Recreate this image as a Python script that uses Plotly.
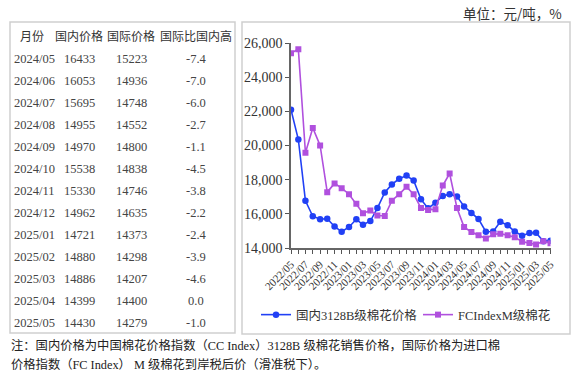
import plotly.graph_objects as go

W, H = 580, 377

# ---------------- data ----------------
months = [
    "2022-05", "2022-06", "2022-07", "2022-08", "2022-09", "2022-10", "2022-11", "2022-12",
    "2023-01", "2023-02", "2023-03", "2023-04", "2023-05", "2023-06", "2023-07", "2023-08",
    "2023-09", "2023-10", "2023-11", "2023-12",
    "2024-01", "2024-02", "2024-03", "2024-04", "2024-05", "2024-06", "2024-07", "2024-08",
    "2024-09", "2024-10", "2024-11", "2024-12",
    "2025-01", "2025-02", "2025-03", "2025-04", "2025-05",
]
domestic = [
    22100, 20350, 16760, 15860, 15690, 15710, 15260, 14950,
    15230, 15680, 15360, 15580, 16340, 17250, 17720, 18050,
    18240, 17950, 16850, 16320,
    16650, 17050, 17150, 17020, 16433, 16053, 15695, 14955,
    14970, 15538, 15330, 14962,
    14721, 14880, 14886, 14399, 14430,
]
international = [
    25400, 25640, 19580, 21030, 20000, 17270, 17780, 17500,
    17150, 16590, 16030, 16190, 15900, 15880, 16770, 17150,
    17580, 17150, 16340, 16230,
    16270, 17660, 18360, 16340, 15223, 14936, 14748, 14552,
    14800, 14838, 14746, 14635,
    14373, 14298, 14207, 14400, 14279,
]
series_names = ["国内3128B级棉花价格", "FCIndexM级棉花"]

table_header = ["月份", "国内价格", "国际价格", "国际比国内高"]
table_months = ["2024/05", "2024/06", "2024/07", "2024/08", "2024/09", "2024/10", "2024/11",
                "2024/12", "2025/01", "2025/02", "2025/03", "2025/04", "2025/05"]
table_dom = [16433, 16053, 15695, 14955, 14970, 15538, 15330, 14962, 14721, 14880, 14886, 14399, 14430]
table_intl = [15223, 14936, 14748, 14552, 14800, 14838, 14746, 14635, 14373, 14298, 14207, 14400, 14279]
table_ratio = [-7.4, -7.0, -6.0, -2.7, -1.1, -4.5, -3.8, -2.2, -2.4, -3.9, -4.6, 0.0, -1.0]

unit_text = "单位：元/吨，%"
note_lines = [
    "注：国内价格为中国棉花价格指数（CC Index）3128B 级棉花销售价格，国际价格为进口棉",
    "价格指数（FC Index） M 级棉花到岸税后价（滑准税下）。",
]

# ---------------- helpers ----------------
def px(x):
    return x / W

def py(y):
    return 1 - y / H

SERIF = "Liberation Serif, Times New Roman, serif"
CJK = "Noto Sans CJK SC, sans-serif"
MIX = "Liberation Serif, Noto Sans CJK SC, serif"

fig = go.Figure()

fig.add_trace(go.Scatter(
    x=[m + "-01" for m in months], y=domestic, name=series_names[0],
    mode="lines+markers",
    line=dict(color="#2140f5", width=1.6),
    marker=dict(symbol="circle", size=6.5, color="#2140f5"),
))
fig.add_trace(go.Scatter(
    x=[m + "-01" for m in months], y=international, name=series_names[1],
    mode="lines+markers",
    line=dict(color="#b050de", width=1.6),
    marker=dict(symbol="square", size=6, color="#b050de"),
))

annotations = []
# table header
header_x = [32, 79, 131, 196]
for hx, t in zip(header_x, table_header):
    annotations.append(dict(x=px(hx), y=py(35), xref="paper", yref="paper", text=t,
                            showarrow=False, xanchor="center", yanchor="middle",
                            font=dict(family=CJK, size=12, color="#333")))
# table rows
for i, (m, d, it, r) in enumerate(zip(table_months, table_dom, table_intl, table_ratio)):
    yy = 59 + i * 22.0
    annotations.append(dict(x=px(12), y=py(yy), xref="paper", yref="paper", text=m,
                            showarrow=False, xanchor="left", yanchor="middle",
                            font=dict(family=SERIF, size=12.5, color="#444")))
    for cx, val in zip([79, 131], [d, it]):
        annotations.append(dict(x=px(cx), y=py(yy), xref="paper", yref="paper", text=str(val),
                                showarrow=False, xanchor="center", yanchor="middle",
                                font=dict(family=SERIF, size=12.5, color="#444")))
    annotations.append(dict(x=px(196), y=py(yy), xref="paper", yref="paper", text=f"{r:.1f}",
                            showarrow=False, xanchor="center", yanchor="middle",
                            font=dict(family=SERIF, size=12.5, color="#444")))

# unit
annotations.append(dict(x=px(564), y=py(13), xref="paper", yref="paper", text=unit_text,
                        showarrow=False, xanchor="right", yanchor="middle",
                        font=dict(family=CJK, size=13.5, color="#333")))
# notes
for j, line in enumerate(note_lines):
    annotations.append(dict(x=px(9), y=py(345 + j * 19), xref="paper", yref="paper", text=line,
                            showarrow=False, xanchor="left", yanchor="middle",
                            font=dict(family=MIX, size=12.3, color="#222")))

shapes = [
    dict(type="rect", xref="paper", yref="paper", x0=px(10), x1=px(235), y0=py(333), y1=py(22),
         line=dict(color="#cfcfcf", width=1.5), fillcolor="rgba(0,0,0,0)", layer="below"),
    dict(type="rect", xref="paper", yref="paper", x0=px(242), x1=px(570), y0=py(334), y1=py(22),
         line=dict(color="#cfcfcf", width=1.5), fillcolor="rgba(0,0,0,0)", layer="below"),
]

fig.update_layout(
    width=W, height=H,
    margin=dict(l=0, r=0, t=0, b=0, pad=0, autoexpand=False),
    paper_bgcolor="white", plot_bgcolor="white",
    showlegend=True,
    legend=dict(orientation="h", x=px(256), y=py(315), xanchor="left", yanchor="middle",
                font=dict(family=MIX, size=12.5, color="#333"), itemwidth=30,
                entrywidth=117, entrywidthmode="pixels",
                bgcolor="rgba(0,0,0,0)", tracegroupgap=0),
    annotations=annotations,
    shapes=shapes,
    xaxis=dict(
        domain=[px(291), px(550.5)],
        type="date",
        range=["2022-05-01", "2025-05-01"],
        tickformat="%Y/%m", dtick="M2", tick0="2022-05-01",
        tickangle=-45, automargin=False,
        ticks="outside", ticklen=4, tickcolor="#555",
        minor=dict(ticks="outside", dtick="M1", ticklen=4, tickcolor="#555"),
        showline=True, linecolor="#666", linewidth=1.5,
        showgrid=False, zeroline=False,
        tickfont=dict(family=SERIF, size=11, color="#333"),
    ),
    yaxis=dict(
        domain=[py(248), py(43)],
        range=[14000, 26000], automargin=False,
        dtick=2000, tickformat=",d",
        ticks="outside", ticklen=4, tickcolor="#555",
        showline=True, linecolor="#666", linewidth=1.5,
        showgrid=False, zeroline=False,
        tickfont=dict(family=SERIF, size=14, color="#333"),
    ),
)

fig.write_html("out.html", config={"displayModeBar": False},
               post_script="document.body.style.margin='0';")
